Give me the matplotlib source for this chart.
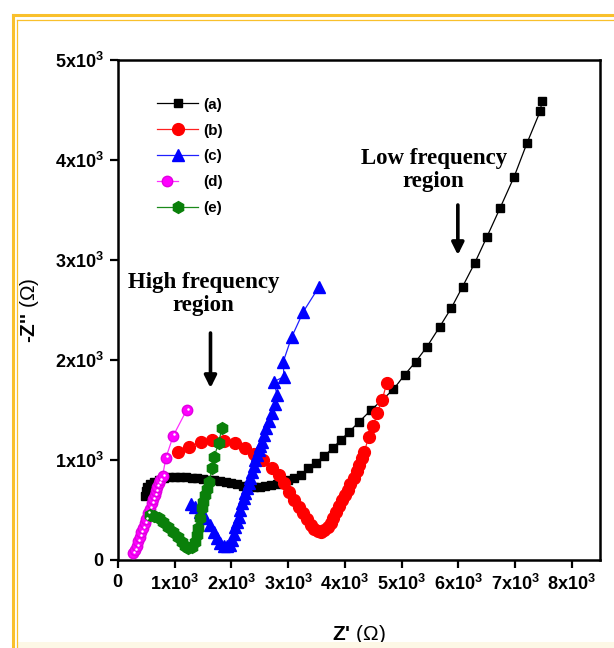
import matplotlib
matplotlib.use("Agg")
import matplotlib.pyplot as plt
from matplotlib.lines import Line2D
from matplotlib.patches import Rectangle
from matplotlib.legend_handler import HandlerTuple
import matplotlib.transforms as mtransforms

plt.rcParams["font.family"] = ["Liberation Sans", "DejaVu Sans"]
plt.rcParams["mathtext.fontset"] = "custom"
plt.rcParams["mathtext.rm"] = "Liberation Sans"
plt.rcParams["mathtext.it"] = "Liberation Sans:italic"
plt.rcParams["mathtext.bf"] = "Liberation Sans:bold"

# Nyquist data: Z' (ohm) and -Z'' (ohm) for samples (a)-(e)
a_zre = [470, 490, 520, 570, 640, 720, 810, 900, 1000, 1100, 1200, 1300, 1400, 1500,
         1600, 1700, 1800, 1900, 2000, 2100, 2200, 2300, 2400, 2500, 2600, 2700, 2800,
         2900, 3000, 3100, 3221, 3357, 3487, 3635, 3783, 3930, 4078, 4255, 4463, 4658,
         4858, 5053, 5250, 5449, 5674, 5881, 6076, 6294, 6507, 6738, 6986, 7211, 7447, 7477]
a_zim = [640, 690, 730, 760, 785, 805, 818, 826, 830, 830, 828, 824, 818, 812,
         805, 798, 790, 780, 768, 756, 745, 738, 733, 733, 738, 750, 765,
         782, 800, 822, 850, 917, 975, 1040, 1117, 1200, 1283, 1383, 1500, 1600,
         1707, 1850, 1983, 2133, 2333, 2523, 2733, 2973, 3233, 3520, 3833, 4167, 4490, 4593]

b_zre = [1064, 1253, 1460, 1655, 1862, 2057, 2234, 2400, 2560, 2719, 2840, 2930, 3014,
         3103, 3191, 3260, 3330, 3400, 3460, 3520, 3580, 3640, 3695, 3750, 3800, 3850,
         3900, 3950, 4000, 4050, 4100, 4160, 4210, 4255, 4300, 4344, 4420, 4504, 4569,
         4658, 4741]
b_zim = [1083, 1133, 1177, 1200, 1195, 1170, 1125, 1065, 1000, 917, 850, 767, 683,
         600, 533, 470, 410, 355, 315, 290, 285, 300, 330, 375, 425, 480,
         540, 600, 650, 700, 760, 820, 890, 950, 1020, 1083, 1227, 1340, 1473,
         1600, 1773]

c_zre = [1290, 1360, 1448, 1530, 1625, 1690, 1743, 1800, 1862, 1921, 1970, 2009, 2040,
         2069, 2100, 2128, 2160, 2187, 2215, 2246, 2275, 2305, 2335, 2364, 2394, 2423,
         2452, 2482, 2511, 2541, 2580, 2618, 2668, 2719, 2765, 2807, 2748, 2926, 2914,
         3061, 3268, 3546]
c_zim = [560, 530, 483, 420, 350, 280, 217, 170, 140, 140, 150, 200, 260,
         333, 380, 433, 500, 567, 620, 667, 717, 767, 825, 883, 940, 1000,
         1050, 1100, 1140, 1183, 1250, 1317, 1390, 1467, 1560, 1650, 1783, 1833, 1983,
         2227, 2483, 2733]

d_zre = [270, 300, 330, 360, 385, 410, 440, 473, 500, 532, 560, 591, 620, 650, 675,
         696, 720, 739, 786, 845, 975, 1211]
d_zim = [70, 100, 140, 190, 233, 280, 320, 367, 410, 467, 515, 567, 610, 650, 690,
         733, 770, 800, 840, 1023, 1243, 1500]

e_zre = [561, 640, 720, 798, 880, 975, 1050, 1123, 1180, 1241, 1300, 1359, 1390, 1418,
         1448, 1477, 1505, 1536, 1575, 1613, 1655, 1695, 1773, 1832]
e_zim = [450, 440, 420, 383, 335, 283, 233, 183, 140, 117, 133, 183, 250, 317,
         420, 517, 585, 650, 715, 783, 917, 1033, 1167, 1317]

series_labels = ["(a)", "(b)", "(c)", "(d)", "(e)"]

x_ticks = [0, 1000, 2000, 3000, 4000, 5000, 6000, 7000, 8000]
y_ticks = [0, 1000, 2000, 3000, 4000, 5000]


def sci_label(v):
    if v == 0:
        return r"$\mathbf{0}$"
    return r"$\mathbf{%dx10^{3}}$" % int(round(v / 1000))


W, H = 614, 648
fig = plt.figure(figsize=(W / 100, H / 100), dpi=100)
ax = fig.add_axes([118 / W, 88 / H, 482 / W, 500 / H])

ax.plot(a_zre, a_zim, color="black", lw=0.9, marker="s", ms=6,
        mfc="black", mec="black", label=series_labels[0], zorder=3)
ax.plot(b_zre, b_zim, color="#ff2020", lw=0.9, marker="o", ms=8.5,
        mfc="#ff0000", mec="#ff0000", label=series_labels[1], zorder=4)
ax.plot(c_zre, c_zim, color="#2020ff", lw=0.9, marker="^", ms=8,
        mfc="#0000ff", mec="#0000ff", label=series_labels[2], zorder=5)
hd, = ax.plot(d_zre, d_zim, color="#ff30ff", lw=0.9, marker="o", ms=7.5,
              mfc="#ff00ff", mec="#e000e0", zorder=6)
shine = mtransforms.offset_copy(ax.transData, fig=fig, x=1.0, y=1.5, units="dots")
hs, = ax.plot(d_zre, d_zim, ls="none", marker="o", ms=1.8, mfc="white",
              mec="none", transform=shine, zorder=7)
ax.plot(e_zre, e_zim, color="#1a8a1a", lw=0.9, marker="h", ms=8.5,
        mfc="#0a800a", mec="#0a800a", label=series_labels[4], zorder=6)

handles, labels = ax.get_legend_handles_labels()
handles.insert(3, (hd, hs))
labels.insert(3, series_labels[3])
leg = ax.legend(handles, labels, loc="upper left", bbox_to_anchor=(0.065, 0.94),
                frameon=False, handlelength=2.7, handletextpad=0.3,
                labelspacing=0.78, borderpad=0,
                handler_map={tuple: HandlerTuple(ndivide=None)},
                prop={"weight": "bold", "size": 11})

ax.set_xlim(0, 8500)
ax.set_ylim(0, 5000)
ax.set_xticks(x_ticks)
ax.set_yticks(y_ticks)
ax.set_xticklabels([sci_label(v) for v in x_ticks])
ax.set_yticklabels([sci_label(v) for v in y_ticks])
ax.tick_params(axis="both", direction="out", length=6, width=1.6, labelsize=13, pad=4)
ax.tick_params(top=False, right=False)
for sp in ax.spines.values():
    sp.set_linewidth(1.8)

ax.set_xlabel(r"Z' $(\Omega)$", fontsize=15, fontweight="bold", labelpad=21)
ax.set_ylabel(r"-Z'' $(\Omega)$", fontsize=15, fontweight="bold", labelpad=10)

serif = ["Liberation Serif", "DejaVu Serif"]
ax.text(1507, 2660, "High frequency\nregion", ha="center", va="center",
        family=serif, weight="bold", fontsize=16.5, linespacing=1.15, zorder=8)
ax.text(5567, 3900, "Low frequency\nregion", ha="center", va="center",
        family=serif, weight="bold", fontsize=16.5, linespacing=1.15, zorder=8)
arrow = dict(arrowstyle="-|>", color="black", lw=2.6, mutation_scale=18,
             shrinkA=0, shrinkB=0)
ax.annotate("", xy=(1631, 1720), xytext=(1631, 2270), arrowprops=arrow, zorder=8)
ax.annotate("", xy=(5993, 3050), xytext=(5993, 3550), arrowprops=arrow, zorder=8)

# decorative double frame around the figure
def fx(px):
    return px / W


def fy(py):
    return 1 - py / H


gold = "#f9c02c"
fig.add_artist(Line2D([fx(13), fx(13)], [fy(15), 0], color=gold, lw=2.2,
                      transform=fig.transFigure))
fig.add_artist(Line2D([fx(13), 1], [fy(15), fy(15)], color=gold, lw=2.2,
                      transform=fig.transFigure))
fig.add_artist(Line2D([fx(17), fx(17)], [fy(19.5), 0], color=gold, lw=0.9,
                      transform=fig.transFigure))
fig.add_artist(Line2D([fx(17), 1], [fy(19.5), fy(19.5)], color=gold, lw=0.9,
                      transform=fig.transFigure))
fig.add_artist(Rectangle((fx(17), 0), 1, 6 / H, transform=fig.transFigure,
                         facecolor="#fdf8e6", edgecolor="none"))

fig.savefig("out.png", dpi=100)
